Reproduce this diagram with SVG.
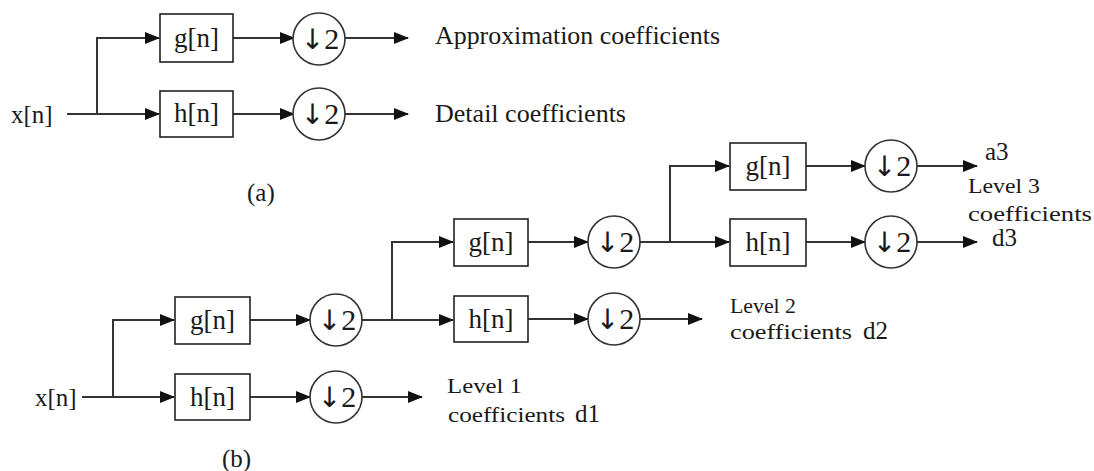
<svg xmlns="http://www.w3.org/2000/svg" width="1094" height="471" viewBox="0 0 1094 471">
<style>
text{font-family:"Liberation Serif","Times New Roman",serif;fill:#1a1a1a}
.lbl{font-size:27px;text-anchor:middle}
.ds{font-size:30px;text-anchor:middle}
.ar{font-family:"DejaVu Sans",sans-serif;font-size:28px;font-weight:normal}
.t{font-size:25px}
.s{font-size:21px}
.box{fill:#fff;stroke:#222;stroke-width:1.6}
.cir{fill:#fff;stroke:#333;stroke-width:1.6}
.ln{fill:none;stroke:#333;stroke-width:2}
</style>
<defs>
<marker id="ah" markerWidth="15" markerHeight="12" refX="14" refY="6" orient="auto" markerUnits="userSpaceOnUse">
<path d="M0,0 L15,6 L0,12 z" fill="#111"/>
</marker>
</defs>
<rect width="1094" height="471" fill="#fff"/>
<g id="connectors">
<path class="ln" d="M67,114 H97 V38 H159" marker-end="url(#ah)"/>
<path class="ln" d="M97,114 H159" marker-end="url(#ah)"/>
<path class="ln" d="M233,38 H294" marker-end="url(#ah)"/>
<path class="ln" d="M233,114 H294" marker-end="url(#ah)"/>
<path class="ln" d="M345,38 H408" marker-end="url(#ah)"/>
<path class="ln" d="M345,114 H408" marker-end="url(#ah)"/>
<path class="ln" d="M82,397 H113 V320 H174" marker-end="url(#ah)"/>
<path class="ln" d="M113,397 H174" marker-end="url(#ah)"/>
<path class="ln" d="M250,320 H310" marker-end="url(#ah)"/>
<path class="ln" d="M250,397 H310" marker-end="url(#ah)"/>
<path class="ln" d="M362,397 H422" marker-end="url(#ah)"/>
<path class="ln" d="M362,320 H392 V242 H453" marker-end="url(#ah)"/>
<path class="ln" d="M392,320 H453" marker-end="url(#ah)"/>
<path class="ln" d="M528,242 H588" marker-end="url(#ah)"/>
<path class="ln" d="M528,319 H588" marker-end="url(#ah)"/>
<path class="ln" d="M640,319 H702" marker-end="url(#ah)"/>
<path class="ln" d="M640,242 H670 V166 H729" marker-end="url(#ah)"/>
<path class="ln" d="M670,242 H729" marker-end="url(#ah)"/>
<path class="ln" d="M806,166 H865" marker-end="url(#ah)"/>
<path class="ln" d="M806,242 H865" marker-end="url(#ah)"/>
<path class="ln" d="M917,166 H977" marker-end="url(#ah)"/>
<path class="ln" d="M917,242 H977" marker-end="url(#ah)"/>
</g>
<g id="a-input"><text class="t" x="11" y="123">x[n]</text></g>
<g id="a-g"><rect class="box" x="160" y="14" width="73" height="48"/><text class="lbl" x="196.5" y="47">g[n]</text></g>
<g id="a-h"><rect class="box" x="160" y="91" width="73" height="46"/><text class="lbl" x="196.5" y="122">h[n]</text></g>
<g id="a-d1"><circle class="cir" cx="319" cy="39" r="26"/><text class="ds" x="320" y="49"><tspan class="ar">↓</tspan>2</text></g>
<g id="a-d2"><circle class="cir" cx="319" cy="114" r="26"/><text class="ds" x="320" y="124"><tspan class="ar">↓</tspan>2</text></g>
<g id="a-approx"><text class="t" x="435" y="44" font-size="24" textLength="285" lengthAdjust="spacingAndGlyphs">Approximation coefficients</text></g>
<g id="a-detail"><text class="t" x="435" y="122" font-size="24" textLength="191" lengthAdjust="spacingAndGlyphs">Detail coefficients</text></g>
<g id="a-caption"><text class="t" x="247" y="201">(a)</text></g>

<g id="b-input"><text class="t" x="35" y="406" font-size="26">x[n]</text></g>
<g id="b-g1"><rect class="box" x="175" y="297" width="75" height="47"/><text class="lbl" x="212.5" y="329">g[n]</text></g>
<g id="b-h1"><rect class="box" x="175" y="374" width="75" height="46"/><text class="lbl" x="212.5" y="406">h[n]</text></g>
<g id="b-d1g"><circle class="cir" cx="336" cy="320" r="26"/><text class="ds" x="337" y="330"><tspan class="ar">↓</tspan>2</text></g>
<g id="b-d1h"><circle class="cir" cx="336" cy="397" r="26"/><text class="ds" x="337" y="407"><tspan class="ar">↓</tspan>2</text></g>
<g id="b-g2"><rect class="box" x="454" y="219" width="74" height="47"/><text class="lbl" x="491" y="251">g[n]</text></g>
<g id="b-h2"><rect class="box" x="454" y="296" width="74" height="46"/><text class="lbl" x="491" y="328">h[n]</text></g>
<g id="b-d2g"><circle class="cir" cx="614" cy="242" r="26"/><text class="ds" x="615" y="252"><tspan class="ar">↓</tspan>2</text></g>
<g id="b-d2h"><circle class="cir" cx="614" cy="319" r="26"/><text class="ds" x="615" y="329"><tspan class="ar">↓</tspan>2</text></g>
<g id="b-g3"><rect class="box" x="730" y="143" width="76" height="47"/><text class="lbl" x="768" y="175">g[n]</text></g>
<g id="b-h3"><rect class="box" x="730" y="219" width="76" height="47"/><text class="lbl" x="768" y="251">h[n]</text></g>
<g id="b-d3g"><circle class="cir" cx="891" cy="166" r="26"/><text class="ds" x="892" y="176"><tspan class="ar">↓</tspan>2</text></g>
<g id="b-d3h"><circle class="cir" cx="891" cy="242" r="26"/><text class="ds" x="892" y="252"><tspan class="ar">↓</tspan>2</text></g>
<g id="b-l1"><text class="s" x="447" y="393" textLength="75" lengthAdjust="spacingAndGlyphs">Level 1</text><text class="s" x="448" y="422" textLength="117" lengthAdjust="spacingAndGlyphs">coefficients</text><text class="t" x="575" y="422">d1</text></g>
<g id="b-l2"><text class="s" x="730" y="313" textLength="66" lengthAdjust="spacingAndGlyphs">Level 2</text><text class="s" x="730" y="339" textLength="122" lengthAdjust="spacingAndGlyphs">coefficients</text><text class="t" x="863" y="339">d2</text></g>
<g id="b-l3"><text class="t" x="985" y="160">a3</text><text class="s" x="968" y="193" textLength="72" lengthAdjust="spacingAndGlyphs">Level 3</text><text class="s" x="968" y="221" textLength="124" lengthAdjust="spacingAndGlyphs">coefficients</text><text class="t" x="992" y="246">d3</text></g>
<g id="b-caption"><text class="t" x="222" y="467">(b)</text></g>
</svg>
